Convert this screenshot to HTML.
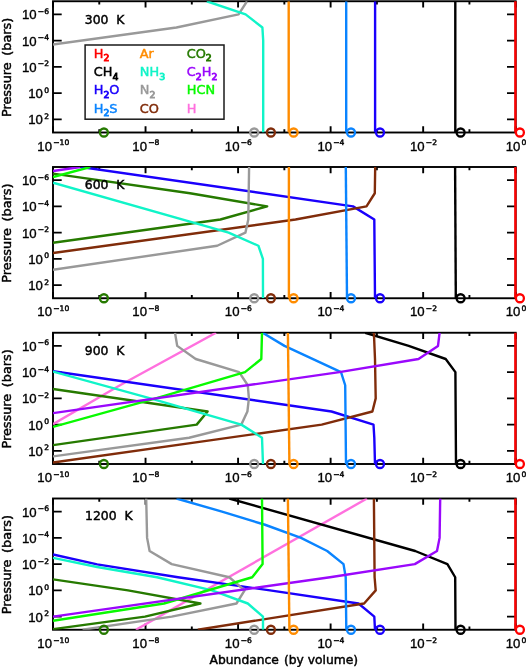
<!DOCTYPE html><html><head><meta charset="utf-8"><title>Abundance profiles</title>
<style>html,body{margin:0;padding:0;background:#fff;}svg{display:block;}text{font-family:'DejaVu Sans', 'Liberation Sans', sans-serif;stroke-width:0.45;}.lb{font-family:'Liberation Sans',sans-serif;stroke-width:0.35}.sp{font-family:'DejaVu Sans',sans-serif;stroke-width:0.45}</style></head><body>
<svg width="526" height="667" viewBox="0 0 526 667">
<rect width="526" height="667" fill="#fff"/>
<defs>
<clipPath id="c0"><rect x="53" y="1.25" width="462.7" height="131.25"/></clipPath>
<clipPath id="c1"><rect x="53" y="167" width="462.7" height="131.25"/></clipPath>
<clipPath id="c2"><rect x="53" y="332.75" width="462.7" height="131.25"/></clipPath>
<clipPath id="c3"><rect x="53" y="498.5" width="462.7" height="131.25"/></clipPath>
</defs>
<rect x="53" y="1.25" width="462.7" height="131.25" fill="none" stroke="#000" stroke-width="1.9"/>
<path d="M53 132.5v-6.2M53 1.25v6.2M99.27 132.5v-3.2M99.27 1.25v3.2M145.54 132.5v-6.2M145.54 1.25v6.2M191.81 132.5v-3.2M191.81 1.25v3.2M238.08 132.5v-6.2M238.08 1.25v6.2M284.35 132.5v-3.2M284.35 1.25v3.2M330.62 132.5v-6.2M330.62 1.25v6.2M376.89 132.5v-3.2M376.89 1.25v3.2M423.16 132.5v-6.2M423.16 1.25v6.2M469.43 132.5v-3.2M469.43 1.25v3.2M515.7 132.5v-6.2M515.7 1.25v6.2M53 14.38h8.7M515.7 14.38h-8.7M53 40.62h8.7M515.7 40.62h-8.7M53 66.88h8.7M515.7 66.88h-8.7M53 93.12h8.7M515.7 93.12h-8.7M53 119.38h8.7M515.7 119.38h-8.7" stroke="#000" stroke-width="1.9" fill="none"/>
<g clip-path="url(#c0)" fill="none" stroke-width="2.4" stroke-linejoin="round" stroke-linecap="butt">
<polyline points="455.3,1.25 455.3,132.5" stroke="#000000"/>
<polyline points="375.1,1.25 375.1,132.5" stroke="#1a00fc"/>
<polyline points="247,1.25 238.6,14.38 176.4,27.5 -13.4,53.75" stroke="#999999"/>
<polyline points="206.8,1.25 245.6,14.38 262.4,27.5 263.2,40.62 263.2,132.5" stroke="#10f4c8"/>
<polyline points="346.2,1.25 346.2,132.5" stroke="#0a84ff"/>
<polyline points="288.7,1.25 288.7,132.5" stroke="#ff8c00"/>
</g>
<polyline points="515.4,1.25 515.4,132.5" stroke="#ff0000" stroke-width="2.4" fill="none"/>
<circle cx="103.9" cy="132.5" r="4" fill="none" stroke="#267a00" stroke-width="2.3"/>
<circle cx="254.2" cy="132.5" r="4" fill="none" stroke="#999999" stroke-width="2.3"/>
<circle cx="270.9" cy="132.5" r="4" fill="none" stroke="#802c0a" stroke-width="2.3"/>
<circle cx="293.6" cy="132.5" r="4" fill="none" stroke="#ff8c00" stroke-width="2.3"/>
<circle cx="351" cy="132.5" r="4" fill="none" stroke="#0a84ff" stroke-width="2.3"/>
<circle cx="380" cy="132.5" r="4" fill="none" stroke="#1a00fc" stroke-width="2.3"/>
<circle cx="460.6" cy="132.5" r="4" fill="none" stroke="#000000" stroke-width="2.3"/>
<circle cx="519.9" cy="132.5" r="4" fill="none" stroke="#ff0000" stroke-width="2.3"/>
<text x="84.8" y="23.65" font-size="12.4" stroke="#000" xml:space="preserve">300  K</text>
<text class="lb" x="53.3" y="150.6" font-size="13.2" text-anchor="middle" stroke="#000">10<tspan class="sp" font-size="7.6" dy="-5.3" dx="1.2">−10</tspan></text>
<text class="lb" x="145.84" y="150.6" font-size="13.2" text-anchor="middle" stroke="#000">10<tspan class="sp" font-size="7.6" dy="-5.3" dx="1.2">−8</tspan></text>
<text class="lb" x="238.38" y="150.6" font-size="13.2" text-anchor="middle" stroke="#000">10<tspan class="sp" font-size="7.6" dy="-5.3" dx="1.2">−6</tspan></text>
<text class="lb" x="330.92" y="150.6" font-size="13.2" text-anchor="middle" stroke="#000">10<tspan class="sp" font-size="7.6" dy="-5.3" dx="1.2">−4</tspan></text>
<text class="lb" x="423.46" y="150.6" font-size="13.2" text-anchor="middle" stroke="#000">10<tspan class="sp" font-size="7.6" dy="-5.3" dx="1.2">−2</tspan></text>
<text class="lb" x="516" y="150.6" font-size="13.2" text-anchor="middle" stroke="#000">10<tspan class="sp" font-size="7.6" dy="-5.3" dx="1.2">0</tspan></text>
<text class="lb" x="49" y="19.38" font-size="13.2" text-anchor="end" stroke="#000">10<tspan class="sp" font-size="7.6" dy="-5.5" dx="1.2">−6</tspan></text>
<text class="lb" x="49" y="45.62" font-size="13.2" text-anchor="end" stroke="#000">10<tspan class="sp" font-size="7.6" dy="-5.5" dx="1.2">−4</tspan></text>
<text class="lb" x="49" y="71.88" font-size="13.2" text-anchor="end" stroke="#000">10<tspan class="sp" font-size="7.6" dy="-5.5" dx="1.2">−2</tspan></text>
<text class="lb" x="49" y="98.12" font-size="13.2" text-anchor="end" stroke="#000">10<tspan class="sp" font-size="7.6" dy="-5.5" dx="1.2">0</tspan></text>
<text class="lb" x="49" y="124.38" font-size="13.2" text-anchor="end" stroke="#000">10<tspan class="sp" font-size="7.6" dy="-5.5" dx="1.2">2</tspan></text>
<text transform="translate(11.4 67.38) rotate(-90)" font-size="12.8" word-spacing="2.6" text-anchor="middle" stroke="#000">Pressure (bars)</text>
<rect x="53" y="167" width="462.7" height="131.25" fill="none" stroke="#000" stroke-width="1.9"/>
<path d="M53 298.25v-6.2M53 167v6.2M99.27 298.25v-3.2M99.27 167v3.2M145.54 298.25v-6.2M145.54 167v6.2M191.81 298.25v-3.2M191.81 167v3.2M238.08 298.25v-6.2M238.08 167v6.2M284.35 298.25v-3.2M284.35 167v3.2M330.62 298.25v-6.2M330.62 167v6.2M376.89 298.25v-3.2M376.89 167v3.2M423.16 298.25v-6.2M423.16 167v6.2M469.43 298.25v-3.2M469.43 167v3.2M515.7 298.25v-6.2M515.7 167v6.2M53 180.12h8.7M515.7 180.12h-8.7M53 206.38h8.7M515.7 206.38h-8.7M53 232.62h8.7M515.7 232.62h-8.7M53 258.88h8.7M515.7 258.88h-8.7M53 285.12h8.7M515.7 285.12h-8.7" stroke="#000" stroke-width="1.9" fill="none"/>
<g clip-path="url(#c1)" fill="none" stroke-width="2.4" stroke-linejoin="round" stroke-linecap="butt">
<polyline points="455.1,167 455.8,298.25" stroke="#000000"/>
<polyline points="81,167 353,206.38 374.3,219.5 375,298.25" stroke="#1a00fc"/>
<polyline points="53,253 295.5,219.5 366.5,206.38 374.8,193.25 375.2,167" stroke="#802c0a"/>
<polyline points="53,173.6 190,193.25 267.2,206.38 220.4,219.5 53,242.7" stroke="#267a00"/>
<polyline points="53,269.8 217.2,245.75 245.4,232.62 248.3,219.5 249.1,167" stroke="#999999"/>
<polyline points="53,182.65 228.6,232.62 258.4,245.75 262.9,258.88 263,298.25" stroke="#10f4c8"/>
<polyline points="345.8,167 347,298.25" stroke="#0a84ff"/>
<polyline points="53,177 90.3,167" stroke="#08fa00"/>
<polyline points="53,171 80.4,167" stroke="#9a08fc"/>
<polyline points="288.9,167 288.9,298.25" stroke="#ff8c00"/>
</g>
<polyline points="515.4,167 515.4,298.25" stroke="#ff0000" stroke-width="2.4" fill="none"/>
<circle cx="103.9" cy="298.25" r="4" fill="none" stroke="#267a00" stroke-width="2.3"/>
<circle cx="254.2" cy="298.25" r="4" fill="none" stroke="#999999" stroke-width="2.3"/>
<circle cx="270.9" cy="298.25" r="4" fill="none" stroke="#802c0a" stroke-width="2.3"/>
<circle cx="293.6" cy="298.25" r="4" fill="none" stroke="#ff8c00" stroke-width="2.3"/>
<circle cx="351" cy="298.25" r="4" fill="none" stroke="#0a84ff" stroke-width="2.3"/>
<circle cx="380" cy="298.25" r="4" fill="none" stroke="#1a00fc" stroke-width="2.3"/>
<circle cx="460.6" cy="298.25" r="4" fill="none" stroke="#000000" stroke-width="2.3"/>
<circle cx="519.9" cy="298.25" r="4" fill="none" stroke="#ff0000" stroke-width="2.3"/>
<text x="84.8" y="189.4" font-size="12.4" stroke="#000" xml:space="preserve">600  K</text>
<text class="lb" x="53.3" y="316.35" font-size="13.2" text-anchor="middle" stroke="#000">10<tspan class="sp" font-size="7.6" dy="-5.3" dx="1.2">−10</tspan></text>
<text class="lb" x="145.84" y="316.35" font-size="13.2" text-anchor="middle" stroke="#000">10<tspan class="sp" font-size="7.6" dy="-5.3" dx="1.2">−8</tspan></text>
<text class="lb" x="238.38" y="316.35" font-size="13.2" text-anchor="middle" stroke="#000">10<tspan class="sp" font-size="7.6" dy="-5.3" dx="1.2">−6</tspan></text>
<text class="lb" x="330.92" y="316.35" font-size="13.2" text-anchor="middle" stroke="#000">10<tspan class="sp" font-size="7.6" dy="-5.3" dx="1.2">−4</tspan></text>
<text class="lb" x="423.46" y="316.35" font-size="13.2" text-anchor="middle" stroke="#000">10<tspan class="sp" font-size="7.6" dy="-5.3" dx="1.2">−2</tspan></text>
<text class="lb" x="516" y="316.35" font-size="13.2" text-anchor="middle" stroke="#000">10<tspan class="sp" font-size="7.6" dy="-5.3" dx="1.2">0</tspan></text>
<text class="lb" x="49" y="185.12" font-size="13.2" text-anchor="end" stroke="#000">10<tspan class="sp" font-size="7.6" dy="-5.5" dx="1.2">−6</tspan></text>
<text class="lb" x="49" y="211.38" font-size="13.2" text-anchor="end" stroke="#000">10<tspan class="sp" font-size="7.6" dy="-5.5" dx="1.2">−4</tspan></text>
<text class="lb" x="49" y="237.62" font-size="13.2" text-anchor="end" stroke="#000">10<tspan class="sp" font-size="7.6" dy="-5.5" dx="1.2">−2</tspan></text>
<text class="lb" x="49" y="263.88" font-size="13.2" text-anchor="end" stroke="#000">10<tspan class="sp" font-size="7.6" dy="-5.5" dx="1.2">0</tspan></text>
<text class="lb" x="49" y="290.12" font-size="13.2" text-anchor="end" stroke="#000">10<tspan class="sp" font-size="7.6" dy="-5.5" dx="1.2">2</tspan></text>
<text transform="translate(11.4 233.12) rotate(-90)" font-size="12.8" word-spacing="2.6" text-anchor="middle" stroke="#000">Pressure (bars)</text>
<rect x="53" y="332.75" width="462.7" height="131.25" fill="none" stroke="#000" stroke-width="1.9"/>
<path d="M53 464v-6.2M53 332.75v6.2M99.27 464v-3.2M99.27 332.75v3.2M145.54 464v-6.2M145.54 332.75v6.2M191.81 464v-3.2M191.81 332.75v3.2M238.08 464v-6.2M238.08 332.75v6.2M284.35 464v-3.2M284.35 332.75v3.2M330.62 464v-6.2M330.62 332.75v6.2M376.89 464v-3.2M376.89 332.75v3.2M423.16 464v-6.2M423.16 332.75v6.2M469.43 464v-3.2M469.43 332.75v3.2M515.7 464v-6.2M515.7 332.75v6.2M53 345.88h8.7M515.7 345.88h-8.7M53 372.12h8.7M515.7 372.12h-8.7M53 398.38h8.7M515.7 398.38h-8.7M53 424.62h8.7M515.7 424.62h-8.7M53 450.88h8.7M515.7 450.88h-8.7" stroke="#000" stroke-width="1.9" fill="none"/>
<g clip-path="url(#c2)" fill="none" stroke-width="2.4" stroke-linejoin="round" stroke-linecap="butt">
<polyline points="53,424.2 120,385.25 216,332.75" stroke="#ff70de"/>
<polyline points="365.2,332.75 408.7,345.88 445.7,359 455.4,372.12 456,464" stroke="#000000"/>
<polyline points="53,371.2 331.5,411.5 373.5,424.62 374.3,437.75 375,464" stroke="#1a00fc"/>
<polyline points="53,462.5 321.7,424.62 372.4,411.5 375.7,398.38 375,359 373.9,332.75" stroke="#802c0a"/>
<polyline points="53,389 207.6,411.5 196.7,424.62 53,445.1" stroke="#267a00"/>
<polyline points="53,456.4 189.1,437.75 241.3,424.62 247.4,411.5 248.9,398.38 247.8,385.25 239.1,372.12 195.7,359 177.2,345.88 175,332.75" stroke="#999999"/>
<polyline points="53,371.6 150.4,398.38 241.3,424.62 262,437.75 263,464" stroke="#10f4c8"/>
<polyline points="262.6,332.75 284.5,345.88 341,372.12 345.2,385.25 346,464" stroke="#0a84ff"/>
<polyline points="53,426.9 155.7,398.38 245,372.12 261.3,359 262,332.75" stroke="#08fa00"/>
<polyline points="53,413.1 339.4,372.12 418.5,359 438,345.88 439.6,332.75" stroke="#9a08fc"/>
<polyline points="287.9,332.75 289.4,464" stroke="#ff8c00"/>
</g>
<polyline points="515.4,332.75 515.4,464" stroke="#ff0000" stroke-width="2.4" fill="none"/>
<circle cx="103.9" cy="464" r="4" fill="none" stroke="#267a00" stroke-width="2.3"/>
<circle cx="254.2" cy="464" r="4" fill="none" stroke="#999999" stroke-width="2.3"/>
<circle cx="270.9" cy="464" r="4" fill="none" stroke="#802c0a" stroke-width="2.3"/>
<circle cx="293.6" cy="464" r="4" fill="none" stroke="#ff8c00" stroke-width="2.3"/>
<circle cx="351" cy="464" r="4" fill="none" stroke="#0a84ff" stroke-width="2.3"/>
<circle cx="380" cy="464" r="4" fill="none" stroke="#1a00fc" stroke-width="2.3"/>
<circle cx="460.6" cy="464" r="4" fill="none" stroke="#000000" stroke-width="2.3"/>
<circle cx="519.9" cy="464" r="4" fill="none" stroke="#ff0000" stroke-width="2.3"/>
<text x="84.8" y="355.15" font-size="12.4" stroke="#000" xml:space="preserve">900  K</text>
<text class="lb" x="53.3" y="482.1" font-size="13.2" text-anchor="middle" stroke="#000">10<tspan class="sp" font-size="7.6" dy="-5.3" dx="1.2">−10</tspan></text>
<text class="lb" x="145.84" y="482.1" font-size="13.2" text-anchor="middle" stroke="#000">10<tspan class="sp" font-size="7.6" dy="-5.3" dx="1.2">−8</tspan></text>
<text class="lb" x="238.38" y="482.1" font-size="13.2" text-anchor="middle" stroke="#000">10<tspan class="sp" font-size="7.6" dy="-5.3" dx="1.2">−6</tspan></text>
<text class="lb" x="330.92" y="482.1" font-size="13.2" text-anchor="middle" stroke="#000">10<tspan class="sp" font-size="7.6" dy="-5.3" dx="1.2">−4</tspan></text>
<text class="lb" x="423.46" y="482.1" font-size="13.2" text-anchor="middle" stroke="#000">10<tspan class="sp" font-size="7.6" dy="-5.3" dx="1.2">−2</tspan></text>
<text class="lb" x="516" y="482.1" font-size="13.2" text-anchor="middle" stroke="#000">10<tspan class="sp" font-size="7.6" dy="-5.3" dx="1.2">0</tspan></text>
<text class="lb" x="49" y="350.88" font-size="13.2" text-anchor="end" stroke="#000">10<tspan class="sp" font-size="7.6" dy="-5.5" dx="1.2">−6</tspan></text>
<text class="lb" x="49" y="377.12" font-size="13.2" text-anchor="end" stroke="#000">10<tspan class="sp" font-size="7.6" dy="-5.5" dx="1.2">−4</tspan></text>
<text class="lb" x="49" y="403.38" font-size="13.2" text-anchor="end" stroke="#000">10<tspan class="sp" font-size="7.6" dy="-5.5" dx="1.2">−2</tspan></text>
<text class="lb" x="49" y="429.62" font-size="13.2" text-anchor="end" stroke="#000">10<tspan class="sp" font-size="7.6" dy="-5.5" dx="1.2">0</tspan></text>
<text class="lb" x="49" y="455.88" font-size="13.2" text-anchor="end" stroke="#000">10<tspan class="sp" font-size="7.6" dy="-5.5" dx="1.2">2</tspan></text>
<text transform="translate(11.4 398.88) rotate(-90)" font-size="12.8" word-spacing="2.6" text-anchor="middle" stroke="#000">Pressure (bars)</text>
<rect x="53" y="498.5" width="462.7" height="131.25" fill="none" stroke="#000" stroke-width="1.9"/>
<path d="M53 629.75v-6.2M53 498.5v6.2M99.27 629.75v-3.2M99.27 498.5v3.2M145.54 629.75v-6.2M145.54 498.5v6.2M191.81 629.75v-3.2M191.81 498.5v3.2M238.08 629.75v-6.2M238.08 498.5v6.2M284.35 629.75v-3.2M284.35 498.5v3.2M330.62 629.75v-6.2M330.62 498.5v6.2M376.89 629.75v-3.2M376.89 498.5v3.2M423.16 629.75v-6.2M423.16 498.5v6.2M469.43 629.75v-3.2M469.43 498.5v3.2M515.7 629.75v-6.2M515.7 498.5v6.2M53 511.62h8.7M515.7 511.62h-8.7M53 537.88h8.7M515.7 537.88h-8.7M53 564.12h8.7M515.7 564.12h-8.7M53 590.38h8.7M515.7 590.38h-8.7M53 616.62h8.7M515.7 616.62h-8.7" stroke="#000" stroke-width="1.9" fill="none"/>
<g clip-path="url(#c3)" fill="none" stroke-width="2.4" stroke-linejoin="round" stroke-linecap="butt">
<polyline points="135.9,629.75 367,498.5" stroke="#ff70de"/>
<polyline points="229.3,498.5 415.2,551 447.4,564.12 455.2,577.25 455.5,629.75" stroke="#000000"/>
<polyline points="53,554.4 97.2,564.4 178,577.25 270,590.38 358.5,603.5 374.3,616.62 375,629.75" stroke="#1a00fc"/>
<polyline points="197.8,629.75 364.1,603.5 375.7,590.38 374.6,577.25 373.9,498.5" stroke="#802c0a"/>
<polyline points="53,579.4 128,590.38 200.4,603.5 145,616.62 53,629.1" stroke="#267a00"/>
<polyline points="146.2,498.5 147.1,537.88 149.6,551 171.7,564.12 229.3,577.25 244.6,590.38 236.5,603.5 171.7,616.62 82.6,629.75" stroke="#999999"/>
<polyline points="53,557.8 97.2,567 157,577.25 212,590.38 247.8,603.5 263,616.62 263,629.75" stroke="#10f4c8"/>
<polyline points="176.5,498.5 222,511.62 265,524.75 301,537.88 327.2,551 343.5,564.12 345.7,577.25 346.3,629.75" stroke="#0a84ff"/>
<polyline points="53,620.7 164,603.5 252.2,577.25 262.6,564.12 262,498.5" stroke="#08fa00"/>
<polyline points="53,616.6 330,577.25 414.8,564.12 437,551 439.6,537.88 440.2,498.5" stroke="#9a08fc"/>
<polyline points="287.9,498.5 289.4,629.75" stroke="#ff8c00"/>
</g>
<polyline points="515.4,498.5 515.4,629.75" stroke="#ff0000" stroke-width="2.4" fill="none"/>
<circle cx="103.9" cy="629.75" r="4" fill="none" stroke="#267a00" stroke-width="2.3"/>
<circle cx="254.2" cy="629.75" r="4" fill="none" stroke="#999999" stroke-width="2.3"/>
<circle cx="270.9" cy="629.75" r="4" fill="none" stroke="#802c0a" stroke-width="2.3"/>
<circle cx="293.6" cy="629.75" r="4" fill="none" stroke="#ff8c00" stroke-width="2.3"/>
<circle cx="351" cy="629.75" r="4" fill="none" stroke="#0a84ff" stroke-width="2.3"/>
<circle cx="380" cy="629.75" r="4" fill="none" stroke="#1a00fc" stroke-width="2.3"/>
<circle cx="460.6" cy="629.75" r="4" fill="none" stroke="#000000" stroke-width="2.3"/>
<circle cx="519.9" cy="629.75" r="4" fill="none" stroke="#ff0000" stroke-width="2.3"/>
<text x="85" y="520.4" font-size="12.4" stroke="#000" xml:space="preserve">1200  K</text>
<text class="lb" x="53.3" y="647.85" font-size="13.2" text-anchor="middle" stroke="#000">10<tspan class="sp" font-size="7.6" dy="-5.3" dx="1.2">−10</tspan></text>
<text class="lb" x="145.84" y="647.85" font-size="13.2" text-anchor="middle" stroke="#000">10<tspan class="sp" font-size="7.6" dy="-5.3" dx="1.2">−8</tspan></text>
<text class="lb" x="238.38" y="647.85" font-size="13.2" text-anchor="middle" stroke="#000">10<tspan class="sp" font-size="7.6" dy="-5.3" dx="1.2">−6</tspan></text>
<text class="lb" x="330.92" y="647.85" font-size="13.2" text-anchor="middle" stroke="#000">10<tspan class="sp" font-size="7.6" dy="-5.3" dx="1.2">−4</tspan></text>
<text class="lb" x="423.46" y="647.85" font-size="13.2" text-anchor="middle" stroke="#000">10<tspan class="sp" font-size="7.6" dy="-5.3" dx="1.2">−2</tspan></text>
<text class="lb" x="516" y="647.85" font-size="13.2" text-anchor="middle" stroke="#000">10<tspan class="sp" font-size="7.6" dy="-5.3" dx="1.2">0</tspan></text>
<text class="lb" x="49" y="516.62" font-size="13.2" text-anchor="end" stroke="#000">10<tspan class="sp" font-size="7.6" dy="-5.5" dx="1.2">−6</tspan></text>
<text class="lb" x="49" y="542.88" font-size="13.2" text-anchor="end" stroke="#000">10<tspan class="sp" font-size="7.6" dy="-5.5" dx="1.2">−4</tspan></text>
<text class="lb" x="49" y="569.12" font-size="13.2" text-anchor="end" stroke="#000">10<tspan class="sp" font-size="7.6" dy="-5.5" dx="1.2">−2</tspan></text>
<text class="lb" x="49" y="595.38" font-size="13.2" text-anchor="end" stroke="#000">10<tspan class="sp" font-size="7.6" dy="-5.5" dx="1.2">0</tspan></text>
<text class="lb" x="49" y="621.62" font-size="13.2" text-anchor="end" stroke="#000">10<tspan class="sp" font-size="7.6" dy="-5.5" dx="1.2">2</tspan></text>
<text transform="translate(11.4 564.62) rotate(-90)" font-size="12.8" word-spacing="2.6" text-anchor="middle" stroke="#000">Pressure (bars)</text>
<rect x="85.1" y="45" width="138.9" height="74.2" fill="#fff" stroke="#1a1a1a" stroke-width="1.5"/>
<text x="93.7" y="57.5" font-size="12.9" fill="#ff0000" stroke="#ff0000">H<tspan font-size="9.4" dy="3.9" stroke-width="0.85">2</tspan></text>
<text x="139.8" y="57.5" font-size="12.9" fill="#ff8c00" stroke="#ff8c00">Ar</text>
<text x="186.7" y="57.5" font-size="12.9" fill="#267a00" stroke="#267a00">CO<tspan font-size="9.4" dy="3.9" stroke-width="0.85">2</tspan></text>
<text x="93.7" y="75.85" font-size="12.9" fill="#000000" stroke="#000000">CH<tspan font-size="9.4" dy="3.9" stroke-width="0.85">4</tspan></text>
<text x="139.8" y="75.85" font-size="12.9" fill="#10f4c8" stroke="#10f4c8">NH<tspan font-size="9.4" dy="3.9" stroke-width="0.85">3</tspan></text>
<text x="186.7" y="75.85" font-size="12.9" fill="#9a08fc" stroke="#9a08fc">C<tspan font-size="9.4" dy="3.9" stroke-width="0.85">2</tspan><tspan dy="-3.9">H</tspan><tspan font-size="9.4" dy="3.9" stroke-width="0.85">2</tspan></text>
<text x="93.7" y="94.2" font-size="12.9" fill="#1a00fc" stroke="#1a00fc">H<tspan font-size="9.4" dy="3.9" stroke-width="0.85">2</tspan><tspan dy="-3.9">O</tspan></text>
<text x="139.8" y="94.2" font-size="12.9" fill="#999999" stroke="#999999">N<tspan font-size="9.4" dy="3.9" stroke-width="0.85">2</tspan></text>
<text x="186.7" y="94.2" font-size="12.9" fill="#08fa00" stroke="#08fa00">HCN</text>
<text x="93.7" y="112.55" font-size="12.9" fill="#0a84ff" stroke="#0a84ff">H<tspan font-size="9.4" dy="3.9" stroke-width="0.85">2</tspan><tspan dy="-3.9">S</tspan></text>
<text x="139.8" y="112.55" font-size="12.9" fill="#802c0a" stroke="#802c0a">CO</text>
<text x="186.7" y="112.55" font-size="12.9" fill="#ff70de" stroke="#ff70de">H</text>
<text x="209.6" y="664" font-size="12.3" stroke="#000">Abundance<tspan x="283.9">(by volume)</tspan></text>
</svg></body></html>
